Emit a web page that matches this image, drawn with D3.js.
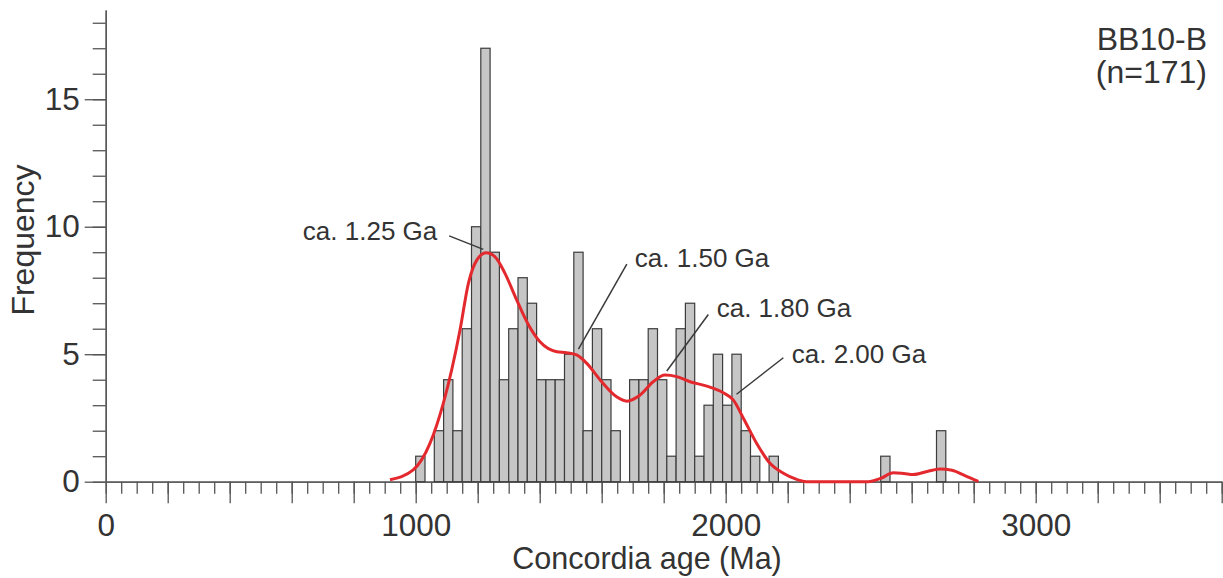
<!DOCTYPE html>
<html>
<head>
<meta charset="utf-8">
<script src="https://cdn.jsdelivr.net/npm/d3@7"></script>
<style>
  body { margin: 0; background: #fff; }
  svg { display: block; font-family: "Liberation Sans", Arial, sans-serif; }
</style>
</head>
<body>
<svg id="chart" width="1223" height="578"></svg>
<script>
// histogram bins (lower edge in Ma, 30 Ma wide) and their counts
const binStarts = [1000, 1060, 1090, 1120, 1150, 1180, 1210, 1240, 1270, 1300, 1330, 1360, 1390, 1420, 1450, 1480, 1510, 1540, 1570, 1600, 1630,
  1690, 1720, 1750, 1780, 1810, 1840, 1870, 1900, 1930, 1960, 1990, 2020, 2050, 2080, 2140, 2500, 2680];
const binCounts = [1, 2, 4, 2, 6, 10, 17, 9, 4, 6, 8, 7, 4, 4, 4, 5, 9, 2, 6, 4, 2,
  4, 4, 6, 4, 1, 6, 7, 1, 3, 5, 3, 5, 2, 1, 1, 1, 2];
const binWidth = 30;

// probability density curve (age, scaled value)
const kdeAges = [917, 992, 1046, 1089, 1116, 1143, 1170, 1197, 1227, 1256, 1288, 1326, 1364, 1401, 1455, 1487, 1519, 1552, 1595, 1648, 1681, 1724,
  1766, 1804, 1842, 1885, 1939, 1992, 2025, 2057, 2100, 2143, 2186, 2229, 2260, 2300, 2460, 2500, 2541, 2575, 2605, 2650, 2691, 2730, 2770, 2815];
const kdeValues = [0.08, 0.46, 1.5, 3.07, 4.38, 5.95, 7.78, 8.69, 8.98, 8.82, 8.17, 7.12, 6.15, 5.49, 5.1, 5.06, 4.97, 4.64, 3.99, 3.33, 3.16, 3.4,
  3.92, 4.18, 4.12, 3.92, 3.75, 3.49, 3.2, 2.49, 1.5, 0.72, 0.33, 0.09, 0.0, 0.0, 0.0, 0.13, 0.35, 0.32, 0.28, 0.4, 0.5, 0.45, 0.25, 0.01];

// peak labels: text position and leader line (age, frequency)
const peakLabels = ["ca. 1.25 Ga", "ca. 1.50 Ga", "ca. 1.80 Ga", "ca. 2.00 Ga"];
const labelAt = [[636, 9.48], [1707, 8.43], [1971, 6.45], [2213, 4.64]];
const leaderFrom = [[1108, 9.64], [1681, 8.53], [1944, 6.56], [2186, 4.86]];
const leaderTo = [[1218, 9.11], [1525, 5.2], [1810, 4.34], [2035, 3.43]];

const xMajor = d3.range(0, 3601, 200);
const xMinor = d3.range(0, 3601, 50);
const xLabels = [0, 1000, 2000, 3000];
const yMajor = [0, 5, 10, 15];
const yMinor = d3.range(0, 19, 1);

const title = ["BB10-B", "(n=171)"];

const svg = d3.select("#chart");
const x = d3.scaleLinear().domain([0, 3600]).range([105.7, 1221.7]);
const y = d3.scaleLinear().domain([0, 18.5]).range([481.7, 10]);

const axisColor = "#555";
const textColor = "#333";

// axes: minor ticks first, then the longer major ticks with labels
const gx = svg.append("g").attr("transform", `translate(0,${y(0)})`);
gx.append("g").call(d3.axisBottom(x).tickValues(xMinor).tickSize(12).tickSizeOuter(0).tickFormat(""));
gx.append("g").call(d3.axisBottom(x).tickValues(xMajor).tickSize(21.5).tickSizeOuter(0).tickPadding(10)
  .tickFormat(d => xLabels.includes(d) ? d : ""));

const gy = svg.append("g").attr("transform", `translate(${x(0)},0)`);
gy.append("g").call(d3.axisLeft(y).tickValues(yMinor).tickSize(13).tickSizeOuter(0).tickFormat(""));
gy.append("g").call(d3.axisLeft(y).tickValues(yMajor).tickSize(21).tickSizeOuter(0).tickPadding(5));

svg.selectAll(".domain, .tick line").attr("stroke", axisColor).attr("stroke-width", 1.3);
svg.selectAll(".tick text").attr("font-size", 31.5).attr("fill", textColor)
  .attr("font-family", "'Liberation Sans', Arial, sans-serif");

// bars
svg.append("g").selectAll("rect")
  .data(binStarts.map((s, i) => ({ start: s, count: binCounts[i] })))
  .join("rect")
  .attr("x", d => x(d.start))
  .attr("width", d => x(d.start + binWidth) - x(d.start))
  .attr("y", d => y(d.count))
  .attr("height", d => y(0) - y(d.count))
  .attr("fill", "#c6c6c6")
  .attr("stroke", "#3c3c3c")
  .attr("stroke-width", 1.2);

// density curve
const line = d3.line().x(d => x(d[0])).y(d => y(d[1])).curve(d3.curveMonotoneX);
svg.append("path")
  .datum(kdeAges.map((a, i) => [a, kdeValues[i]]))
  .attr("d", line)
  .attr("fill", "none")
  .attr("stroke", "#e3292d")
  .attr("stroke-width", 3);

// peak annotations
peakLabels.forEach((label, i) => {
  svg.append("line")
    .attr("x1", x(leaderFrom[i][0])).attr("y1", y(leaderFrom[i][1]))
    .attr("x2", x(leaderTo[i][0])).attr("y2", y(leaderTo[i][1]))
    .attr("stroke", "#3a3a3a")
    .attr("stroke-width", 1.5);
  svg.append("text")
    .attr("x", x(labelAt[i][0]))
    .attr("y", y(labelAt[i][1]))
    .attr("font-size", 26)
    .attr("fill", textColor)
    .text(label);
});

// axis titles
svg.append("text")
  .attr("x", 647).attr("y", 569)
  .attr("text-anchor", "middle")
  .attr("font-size", 30.5)
  .attr("fill", textColor)
  .text("Concordia age (Ma)");

svg.append("text")
  .attr("transform", "translate(34,240) rotate(-90)")
  .attr("text-anchor", "middle")
  .attr("font-size", 32)
  .attr("fill", textColor)
  .text("Frequency");

// sample name
svg.append("g").selectAll("text")
  .data(title)
  .join("text")
  .attr("x", 1207)
  .attr("y", (d, i) => 50 + i * 33)
  .attr("text-anchor", "end")
  .attr("font-size", 32)
  .attr("fill", textColor)
  .text(d => d);
</script>
</body>
</html>
